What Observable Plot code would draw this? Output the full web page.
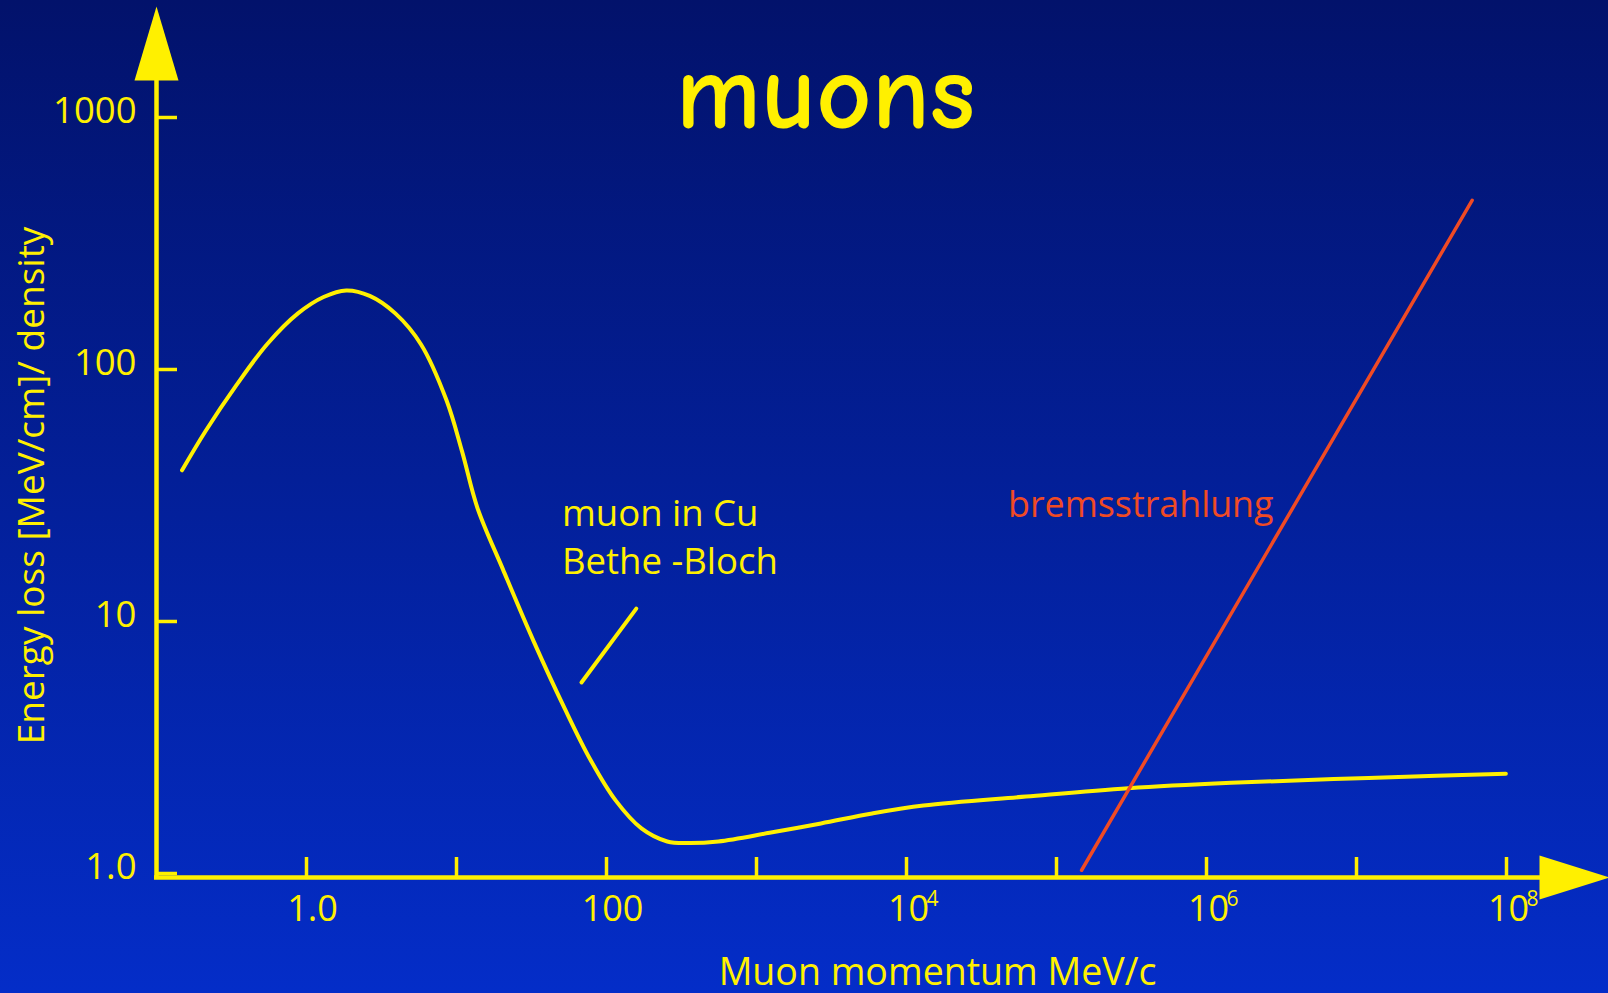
<!DOCTYPE html>
<html>
<head>
<meta charset="utf-8">
<script src="https://cdn.jsdelivr.net/npm/d3@7"></script>
<script src="https://cdn.jsdelivr.net/npm/@observablehq/plot@0.6"></script>
<style>
  html, body { margin: 0; padding: 0; width: 1608px; height: 993px; overflow: hidden;
    background: linear-gradient(#02126b, #042dc8); }
  #chart svg { display: block; }
</style>
</head>
<body>
<div id="chart"></div>
<script>
// ---- data ----
// Bethe-Bloch curve for a muon in Cu: momentum (MeV/c) and energy loss ((MeV/cm)/density)
const betheMomentum = [0.148, 0.212, 0.341, 0.546, 0.877, 1.30, 1.84, 2.64, 3.91, 5.79, 8.59, 10.9, 13.8, 20.4, 32.7, 52.5, 77.8, 115, 171, 254, 348, 557, 1222, 2692, 5902, 12970, 62660, 302000, 1.46e6, 7.05e6, 3.40e7, 9.9e7];
const betheLoss     = [39.8, 56.9, 86.7, 126, 167, 194, 206, 196, 167, 126, 75.3, 47.2, 28.2, 16.1, 8.34, 4.53, 2.84, 1.95, 1.51, 1.34, 1.32, 1.34, 1.45, 1.58, 1.73, 1.86, 2.02, 2.18, 2.29, 2.37, 2.44, 2.49];
// bremsstrahlung (straight line in log-log)
const bremsMomentum = [1.47e5, 5.9e7];
const bremsLoss     = [1.03, 469];
// pointer line from the label to the curve
const pointerMomentum = [68.1, 158];
const pointerLoss     = [5.73, 11.25];
// axes
const xTicks = [1, 10, 100, 1e3, 1e4, 1e5, 1e6, 1e7, 1e8];
const xPlainLabels = [{v: 1, t: "1.0"}, {v: 100, t: "100"}];
const xPowerLabels = [{v: 1e4, e: "4"}, {v: 1e6, e: "6"}, {v: 1e8, e: "8"}];
const yTicks = [1, 10, 100, 1000];
const yTickLabels = ["1.0", "10", "100", "1000"];
// annotation labels (anchored in data coordinates)
const betheNotes = [
  {x: 50.5, y: 24.0, text: "muon in Cu"},
  {x: 50.5, y: 15.4, text: "Bethe -Bloch"}
];
const bremsNotes = [
  {x: 4.75e4, y: 26.1, text: "bremsstrahlung"}
];
const titleText = "muons";
const xLabel = "Muon momentum MeV/c";
const yLabel = "Energy loss [MeV/cm]/ density";

// ---- styling ----
const YELLOW = "#fff000";
const RED = "#f04a24";
const FONT = "'Myriad Pro', 'Open Sans', 'Noto Sans', sans-serif";
const yMin = 0.964;

const bethe = betheMomentum.map((x, i) => ({x, y: betheLoss[i]}));
const brems = bremsMomentum.map((x, i) => ({x, y: bremsLoss[i]}));
const pointer = pointerMomentum.map((x, i) => ({x, y: pointerLoss[i]}));

const arrowUp = { draw(ctx) { ctx.moveTo(0, -37); ctx.lineTo(22, 37); ctx.lineTo(-22, 37); ctx.closePath(); } };
const arrowRight = { draw(ctx) { ctx.moveTo(35, 0); ctx.lineTo(-35, -22); ctx.lineTo(-35, 22); ctx.closePath(); } };

const plot = Plot.plot({
  width: 1608,
  height: 993,
  marginLeft: 156,
  marginRight: 102,
  marginTop: 117,
  marginBottom: 116,
  style: {background: "transparent", fontFamily: FONT, color: YELLOW, overflow: "visible"},
  x: {type: "log", domain: [0.1, 1e8], axis: null},
  y: {type: "log", domain: [yMin, 1000], axis: null},
  marks: [
    // axis lines
    Plot.ruleX([0.1], {stroke: YELLOW, strokeWidth: 4.5, insetTop: -37}),
    Plot.ruleY([yMin], {stroke: YELLOW, strokeWidth: 4.5, insetRight: -36, insetLeft: -2}),
    // ticks
    Plot.tickY(yTicks, {y: d => d, stroke: YELLOW, strokeWidth: 3.5, insetRight: 1350 - 21}),
    Plot.tickX(xTicks, {x: d => d, stroke: YELLOW, strokeWidth: 3.5, insetTop: 760 - 20}),
    // arrow heads
    Plot.dot([0], {frameAnchor: "top-left", dy: -74, symbol: arrowUp, fill: YELLOW, stroke: "none"}),
    Plot.dot([0], {frameAnchor: "bottom-right", dx: 68, symbol: arrowRight, fill: YELLOW, stroke: "none"}),
    // y tick labels
    Plot.text(yTicks, {y: d => d, text: (d, i) => yTickLabels[i], frameAnchor: "left", textAnchor: "end", dx: -20, dy: -6, fontSize: 36.5, fill: YELLOW, fontFamily: FONT}),
    // x tick labels
    Plot.text(xPlainLabels, {x: "v", text: "t", frameAnchor: "bottom", lineAnchor: "bottom", dy: 43, dx: 6, fontSize: 36, fill: YELLOW, fontFamily: FONT}),
    Plot.text(xPowerLabels, {x: "v", text: () => "10", frameAnchor: "bottom", lineAnchor: "bottom", dy: 43, dx: 2, fontSize: 36, fill: YELLOW, fontFamily: FONT}),
    Plot.text(xPowerLabels, {x: "v", text: "e", frameAnchor: "bottom", lineAnchor: "bottom", textAnchor: "start", dy: 28, dx: 20, fontSize: 21, fill: YELLOW, fontFamily: FONT}),
    // axis titles
    Plot.text([xLabel], {text: d => d, frameAnchor: "bottom", lineAnchor: "bottom", textAnchor: "middle", dx: 106, dy: 107, fontSize: 37.5, fill: YELLOW, fontFamily: FONT}),
    Plot.text([yLabel], {text: d => d, frameAnchor: "left", textAnchor: "middle", rotate: -90, dx: -124, dy: -12, fontSize: 37, fill: YELLOW, fontFamily: FONT}),
    // title
    Plot.text([titleText], {text: d => d, frameAnchor: "top", lineAnchor: "bottom", textAnchor: "middle", dx: -6, dy: 10, fontSize: 107, fontWeight: "bold", fill: YELLOW, fontFamily: "'Comic Sans MS', 'Comic Neue', Lato, sans-serif"}),
    // curves
    Plot.line(bethe, {x: "x", y: "y", curve: "catmull-rom", stroke: YELLOW, strokeWidth: 4}),
    Plot.line(pointer, {x: "x", y: "y", stroke: YELLOW, strokeWidth: 4}),
    Plot.line(brems, {x: "x", y: "y", stroke: RED, strokeWidth: 3.5}),
    // annotations
    Plot.text(betheNotes, {x: "x", y: "y", text: "text", fill: YELLOW, textAnchor: "start", lineAnchor: "bottom", fontSize: 36.5, fontFamily: FONT}),
    Plot.text(bremsNotes, {x: "x", y: "y", text: "text", fill: RED, textAnchor: "start", lineAnchor: "bottom", fontSize: 35.8, fontFamily: FONT})
  ]
});
document.getElementById("chart").appendChild(plot);
</script>
</body>
</html>
